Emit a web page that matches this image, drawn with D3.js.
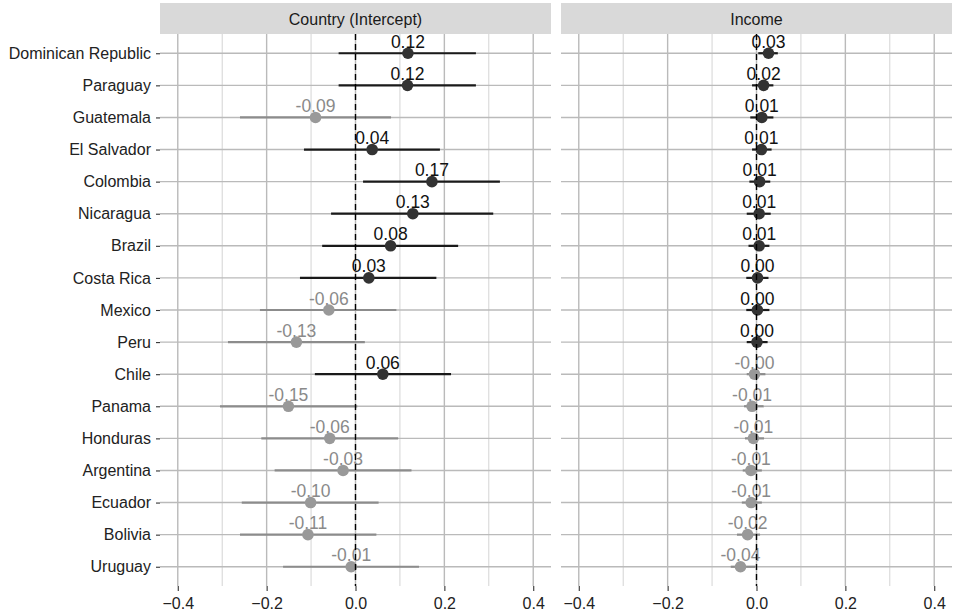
<!DOCTYPE html>
<html>
<head>
<meta charset="utf-8">
<script src="https://cdn.jsdelivr.net/npm/d3@7"></script>
<style>
body { margin: 0; background: #fff; }
svg { display: block; font-family: "Liberation Sans", Arial, sans-serif; }
</style>
</head>
<body>
<svg id="chart" width="957" height="614"></svg>
<script>
// ---- data ----
const countries = ["Dominican Republic","Paraguay","Guatemala","El Salvador","Colombia","Nicaragua","Brazil","Costa Rica","Mexico","Peru","Chile","Panama","Honduras","Argentina","Ecuador","Bolivia","Uruguay"];
const panels = ["Country (Intercept)", "Income"];

const interceptEst = [0.118, 0.117, -0.090, 0.0375, 0.172, 0.129, 0.079, 0.030, -0.060, -0.133, 0.0615, -0.151, -0.058, -0.028, -0.101, -0.107, -0.0097];
const interceptLo  = [-0.038, -0.038, -0.260, -0.116, 0.017, -0.055, -0.075, -0.125, -0.215, -0.287, -0.0915, -0.305, -0.212, -0.182, -0.256, -0.260, -0.163];
const interceptHi  = [0.271, 0.271, 0.080, 0.190, 0.325, 0.310, 0.231, 0.182, 0.092, 0.021, 0.215, 0.004, 0.096, 0.126, 0.052, 0.047, 0.143];

const incomeEst = [0.027, 0.016, 0.012, 0.011, 0.007, 0.006, 0.006, 0.0023, 0.002, 0.001, -0.0045, -0.010, -0.007, -0.0126, -0.012, -0.020, -0.036];
const incomeLo  = [0.004, -0.010, -0.014, -0.010, -0.016, -0.022, -0.018, -0.023, -0.023, -0.022, -0.022, -0.028, -0.026, -0.031, -0.033, -0.044, -0.058];
const incomeHi  = [0.048, 0.038, 0.038, 0.034, 0.031, 0.032, 0.029, 0.027, 0.029, 0.025, 0.020, 0.016, 0.017, 0.012, 0.012, 0.008, -0.003];

const xMajor = [-0.4, -0.2, 0.0, 0.2, 0.4];
const xMinor = [-0.3, -0.1, 0.1, 0.3];
const xDomain = [-0.44, 0.44];

// ---- layout ----
const svg = d3.select("#chart");
const pTop = 34, pBottom = 586, stripTop = 3;
const panelX = [[160, 551], [561, 952]];
const panelData = [
  {est: interceptEst, lo: interceptLo, hi: interceptHi},
  {est: incomeEst, lo: incomeLo, hi: incomeHi}
];

const y = d3.scalePoint().domain(countries).range([pTop, pBottom]).padding(0.6);

const darkLine = "#1a1a1a", darkPt = "#333333", darkTxt = "#111111";
const grayLine = "#8c8c8c", grayPt = "#999999", grayTxt = "#8a8a8a";

panels.forEach((name, pi) => {
  const [x0, x1] = panelX[pi];
  const x = d3.scaleLinear().domain(xDomain).range([x0, x1]);
  const g = svg.append("g");

  // strip
  g.append("rect").attr("x", x0).attr("y", stripTop).attr("width", x1 - x0).attr("height", pTop - stripTop).attr("fill", "#d9d9d9");
  g.append("text").attr("x", (x0 + x1) / 2).attr("y", (stripTop + pTop) / 2 + 6.5)
    .attr("text-anchor", "middle").attr("fill", "#1a1a1a").style("font-size", "16px").text(name);

  // minor grid
  g.selectAll(".minor").data(xMinor).enter().append("line")
    .attr("x1", d => x(d)).attr("x2", d => x(d)).attr("y1", pTop).attr("y2", pBottom)
    .attr("stroke", "#d4d4d4").attr("stroke-width", 1);
  // major grid
  g.selectAll(".major").data(xMajor).enter().append("line")
    .attr("x1", d => x(d)).attr("x2", d => x(d)).attr("y1", pTop).attr("y2", pBottom)
    .attr("stroke", "#bababa").attr("stroke-width", 1.4);
  g.selectAll(".hgrid").data(countries).enter().append("line")
    .attr("x1", x0).attr("x2", x1).attr("y1", d => y(d)).attr("y2", d => y(d))
    .attr("stroke", "#bababa").attr("stroke-width", 1.4);

  // x axis
  const xAxis = d3.axisBottom(x).tickValues(xMajor).tickSize(5).tickPadding(7).tickFormat(d3.format(".1f"));
  const xg = g.append("g").attr("transform", `translate(0,${pBottom})`).call(xAxis);
  xg.select(".domain").remove();
  xg.selectAll(".tick line").attr("stroke", "#333").attr("stroke-width", 1.1);
  xg.selectAll(".tick text").attr("fill", "#222").style("font-size", "16px").style("font-family", "Liberation Sans, Arial, sans-serif");

  const pd = panelData[pi];
  const rows = countries.map((c, i) => ({c, est: pd.est[i], lo: pd.lo[i], hi: pd.hi[i]}));
  const pos = d => d.est >= 0;

  // error bars
  g.selectAll(".eb").data(rows).enter().append("line")
    .attr("x1", d => x(d.lo)).attr("x2", d => x(d.hi))
    .attr("y1", d => y(d.c)).attr("y2", d => y(d.c))
    .attr("stroke", d => pos(d) ? darkLine : grayLine).attr("stroke-width", 2.2);
  // points
  g.selectAll(".pt").data(rows).enter().append("circle")
    .attr("cx", d => x(d.est)).attr("cy", d => y(d.c)).attr("r", 5.8)
    .attr("fill", d => pos(d) ? darkPt : grayPt);
  // labels
  g.selectAll(".lb").data(rows).enter().append("text")
    .attr("x", d => x(d.est)).attr("y", d => y(d.c) - 5.5)
    .attr("text-anchor", "middle")
    .attr("fill", d => pos(d) ? darkTxt : grayTxt)
    .style("font-size", "17.5px")
    .text(d => (d.est < 0 ? "-" : "") + Math.abs(d.est).toFixed(2));

  // zero line
  g.append("line").attr("x1", x(0)).attr("x2", x(0)).attr("y1", pTop).attr("y2", pBottom)
    .attr("stroke", "#000").attr("stroke-width", 1.4).attr("stroke-dasharray", "6,4");
});

// y axis labels
const yAxis = d3.axisLeft(y).tickSize(4).tickPadding(5);
const yg = svg.append("g").attr("transform", `translate(${panelX[0][0]},0)`).call(yAxis);
yg.select(".domain").remove();
yg.selectAll(".tick line").attr("stroke", "#333").attr("stroke-width", 1.1);
yg.selectAll(".tick text").attr("fill", "#222").style("font-size", "16px").style("font-family", "Liberation Sans, Arial, sans-serif");
</script>
</body>
</html>
